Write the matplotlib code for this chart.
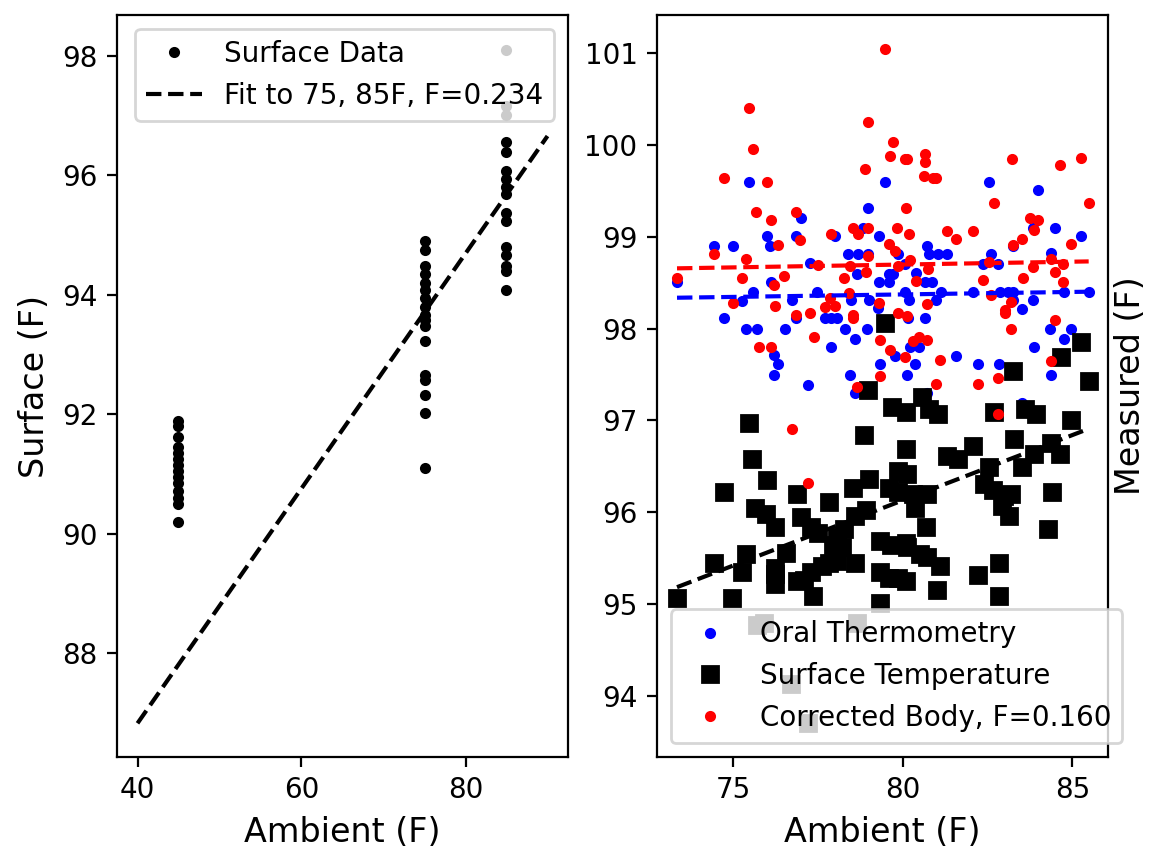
import numpy as np
import matplotlib
matplotlib.use("Agg")
import matplotlib.pyplot as plt

# ---------------- Left panel data ----------------
ambient_levels = [45, 75, 85]
surface_45 = [91.89, 91.80, 91.62, 91.45, 91.35, 91.25, 91.15, 91.05, 90.95, 90.85,
              90.72, 90.60, 90.50, 90.19]
surface_75 = [94.89, 94.74, 94.48, 94.35, 94.19, 94.07, 93.94, 93.80, 93.66, 93.57,
              93.48, 93.23, 92.66, 92.57, 92.32, 92.01, 91.10]
surface_85 = [98.10, 97.15, 97.00, 96.55, 96.39, 96.07, 95.94, 95.80, 95.69, 95.37,
              95.23, 94.80, 94.66, 94.48, 94.39, 94.07]
left_fit = [0.1966, 78.96]          # slope, intercept of "Fit to 75, 85F"
left_fit_range = [40, 90]

# ---------------- Right panel data ----------------
oral_x = [79.47, 75.45, 82.54, 84.00, 78.98, 77.00, 76.86, 78.00, 75.98, 76.09, 74.43, 74.98,
          79.31, 78.82, 83.84, 84.49, 85.24, 80.70, 83.24, 78.39, 78.69, 78.98, 79.87, 80.78,
          81.04, 81.29, 82.59, 84.38, 77.26, 82.35, 82.81, 80.05, 78.66, 79.60, 79.70, 80.40,
          79.31, 79.58, 80.64, 80.86, 76.10, 73.34, 75.59, 77.46, 80.06, 81.12, 82.06, 82.86,
          83.10, 83.26, 84.76, 85.48, 75.27, 76.74, 78.48, 79.01, 80.17, 80.99, 83.84, 83.24,
          79.28, 83.52, 74.74, 76.86, 77.70, 77.87, 78.05, 80.15, 80.64, 75.38, 75.70, 76.52,
          78.29, 78.93, 84.33, 84.95, 78.58, 84.76, 77.87, 80.22, 80.48, 83.88, 76.20, 76.32,
          76.21, 77.21, 78.45, 78.58, 79.33, 79.76, 80.12, 80.35, 81.58, 82.22, 82.83, 84.38,
          83.50, 80.70]
oral_y = [99.59, 99.59, 99.59, 99.51, 99.31, 99.20, 99.01, 99.01, 99.01, 98.90, 98.90, 98.90,
          99.01, 99.09, 99.09, 99.09, 99.01, 98.90, 98.90, 98.81, 98.81, 98.81, 98.81, 98.81,
          98.81, 98.81, 98.81, 98.82, 98.71, 98.70, 98.70, 98.70, 98.59, 98.59, 98.59, 98.60,
          98.51, 98.51, 98.51, 98.51, 98.51, 98.51, 98.40, 98.40, 98.40, 98.40, 98.40, 98.40,
          98.40, 98.40, 98.40, 98.40, 98.30, 98.31, 98.31, 98.31, 98.31, 98.31, 98.31, 98.31,
          98.22, 98.21, 98.11, 98.11, 98.11, 98.11, 98.11, 98.11, 98.11, 98.00, 98.00, 98.00,
          98.00, 98.00, 98.00, 98.00, 97.89, 97.89, 97.80, 97.80, 97.80, 97.80, 97.71, 97.61,
          97.50, 97.39, 97.50, 97.30, 97.61, 97.70, 97.50, 97.61, 97.70, 97.61, 97.61, 97.50,
          97.19, 97.30]

surf_x = [78.98, 85.48, 85.24, 84.66, 83.24, 79.47, 79.67, 80.56, 80.08, 81.04, 80.78, 75.45,
          82.70, 83.93, 84.95, 83.61, 78.85, 83.29, 80.08, 82.06, 81.31, 81.63, 75.56, 82.54,
          83.50, 83.88, 84.36, 84.63, 79.87, 80.13, 76.00, 79.01, 78.53, 82.38, 82.65, 82.97,
          83.18, 74.73, 76.87, 79.60, 79.87, 80.29, 80.72, 84.39, 77.83, 80.35, 75.64, 75.96,
          76.23, 82.91, 83.13, 77.00, 77.30, 77.50, 78.58, 78.90, 80.67, 84.28, 78.26, 78.05,
          77.94, 78.20, 79.33, 79.65, 80.08, 80.13, 75.37, 76.55, 80.50, 80.72, 81.10, 82.83,
          74.44, 75.27, 76.23, 76.23, 76.23, 77.62, 77.83, 78.05, 78.58, 77.30, 77.09, 76.87,
          79.33, 79.60, 79.87, 80.08, 82.22, 81.00, 77.35, 74.95, 73.34, 82.83, 79.33, 75.90,
          75.70, 78.64, 76.71, 77.19]
surf_y = [97.33, 97.43, 97.85, 97.69, 97.54, 98.06, 97.15, 97.25, 97.09, 97.07, 97.13, 96.97,
          97.09, 97.07, 97.00, 97.13, 96.84, 96.80, 96.69, 96.72, 96.61, 96.58, 96.58, 96.49,
          96.49, 96.64, 96.75, 96.64, 96.45, 96.42, 96.35, 96.36, 96.27, 96.31, 96.24, 96.18,
          96.20, 96.22, 96.20, 96.27, 96.22, 96.20, 96.20, 96.22, 96.11, 96.05, 96.05, 95.98,
          95.84, 96.07, 95.96, 95.95, 95.84, 95.78, 95.96, 96.03, 95.84, 95.82, 95.82, 95.73,
          95.65, 95.62, 95.69, 95.65, 95.67, 95.62, 95.55, 95.56, 95.55, 95.51, 95.42, 95.45,
          95.45, 95.35, 95.40, 95.33, 95.22, 95.42, 95.45, 95.47, 95.45, 95.35, 95.27, 95.25,
          95.35, 95.29, 95.29, 95.25, 95.32, 95.16, 95.09, 95.07, 95.07, 95.09, 95.02, 94.80,
          94.78, 94.80, 94.13, 93.71]

corr_x = [79.47, 75.45, 78.98, 75.59, 74.74, 75.98, 79.70, 79.63, 80.05, 80.11, 78.87, 80.64,
          80.64, 80.61, 80.88, 80.99, 80.10, 83.21, 82.70, 84.64, 85.24, 85.48, 75.67, 76.10,
          76.86, 76.98, 76.32, 77.87, 78.53, 78.69, 78.98, 79.82, 80.17, 79.58, 79.76, 81.29,
          81.58, 82.06, 83.75, 83.98, 83.88, 83.51, 83.26, 84.95, 74.43, 75.38, 73.34, 75.27,
          76.50, 76.21, 74.98, 76.22, 76.86, 77.27, 77.70, 78.00, 77.84, 77.51, 78.45, 78.40,
          78.26, 78.54, 78.54, 78.98, 78.91, 79.30, 79.87, 80.21, 80.40, 80.70, 80.75, 79.87,
          80.12, 77.39, 75.75, 76.10, 79.33, 79.63, 80.05, 80.30, 80.48, 80.72, 81.10, 80.99,
          79.33, 78.64, 82.22, 82.81, 82.81, 82.35, 82.54, 82.59, 83.00, 83.00, 83.18, 83.18,
          83.55, 83.84, 84.38, 84.49, 84.73, 84.73, 84.49, 84.38, 76.74, 77.21]
corr_y = [101.04, 100.40, 100.25, 99.95, 99.64, 99.59, 100.03, 99.88, 99.84, 99.84, 99.73, 99.90,
          99.81, 99.66, 99.64, 99.64, 99.31, 99.84, 99.37, 99.78, 99.86, 99.36, 99.27, 99.18,
          99.27, 98.96, 98.91, 99.03, 99.09, 99.03, 99.09, 99.09, 99.03, 98.92, 98.84, 99.06,
          98.97, 99.06, 99.20, 99.18, 99.07, 98.97, 98.91, 98.92, 98.81, 98.76, 98.55, 98.55,
          98.57, 98.47, 98.28, 98.24, 98.15, 98.17, 98.23, 98.25, 98.33, 98.69, 98.68, 98.39,
          98.55, 98.15, 98.12, 98.79, 98.61, 98.28, 98.68, 98.74, 98.52, 98.27, 98.65, 98.17,
          98.14, 97.91, 97.80, 97.80, 97.88, 97.77, 97.69, 97.86, 97.91, 97.87, 97.66, 97.40,
          97.48, 97.36, 97.40, 97.46, 97.07, 98.53, 98.72, 98.37, 98.20, 98.17, 98.29, 98.00,
          98.55, 98.67, 98.76, 98.62, 98.70, 98.51, 98.09, 97.65, 96.91, 96.32]

oral_fit = [0.0054, 97.939]       # slope, intercept
surf_fit = [0.1419, 84.78]
corr_fit = [0.0062, 98.200]

# ---------------- Figure ----------------
W, H, DPI = 1149, 848, 200
fig = plt.figure(figsize=(W / DPI, H / DPI), dpi=DPI)

def px_axes(x0, y0, x1, y1):
    return fig.add_axes([x0 / W, 1 - y1 / H, (x1 - x0) / W, (y1 - y0) / H])

ax1 = px_axes(117, 15, 568, 757)
ax2 = px_axes(657, 15, 1108, 757)

# Left
lx = []
ly = []
for lev, vals in zip(ambient_levels, [surface_45, surface_75, surface_85]):
    lx += [lev] * len(vals)
    ly += vals
ax1.plot(lx, ly, 'k.', label='Surface Data')
fx = np.array(left_fit_range, dtype=float)
ax1.plot(fx, np.polyval(left_fit, fx), 'k--', label='Fit to 75, 85F, F=0.234')
ax1.set_xlim(37.5, 92.5)
ax1.set_ylim(86.26, 98.68)
ax1.set_xticks([40, 60, 80])
ax1.set_yticks([88, 90, 92, 94, 96, 98])
ax1.set_xlabel('Ambient (F)', fontsize=12)
ax1.set_ylabel('Surface (F)', fontsize=12)
ax1.legend(loc='upper right')

# Right
ax2.plot(oral_x, oral_y, 'b.', label='Oral Thermometry')
ax2.plot(surf_x, surf_y, 'ks', label='Surface Temperature')
ax2.plot(corr_x, corr_y, 'r.', label='Corrected Body, F=0.160')
for xs, fit, style in [(oral_x, oral_fit, 'b--'), (surf_x, surf_fit, 'k--'),
                       (corr_x, corr_fit, 'r--')]:
    xr = np.array([min(xs), max(xs)])
    ax2.plot(xr, np.polyval(fit, xr), style)
ax2.set_xlim(72.75, 86.05)
ax2.set_ylim(93.34, 101.41)
ax2.set_xticks([75, 80, 85])
ax2.set_yticks([94, 95, 96, 97, 98, 99, 100, 101])
ax2.set_xlabel('Ambient (F)', fontsize=12)
ax2.set_ylabel('Measured (F)', fontsize=12, labelpad=2)
ax2.yaxis.set_label_position('right')
handles, labels = ax2.get_legend_handles_labels()
ax2.legend(handles[:3], labels[:3], loc='lower left')

fig.savefig('out.png', dpi=DPI)
